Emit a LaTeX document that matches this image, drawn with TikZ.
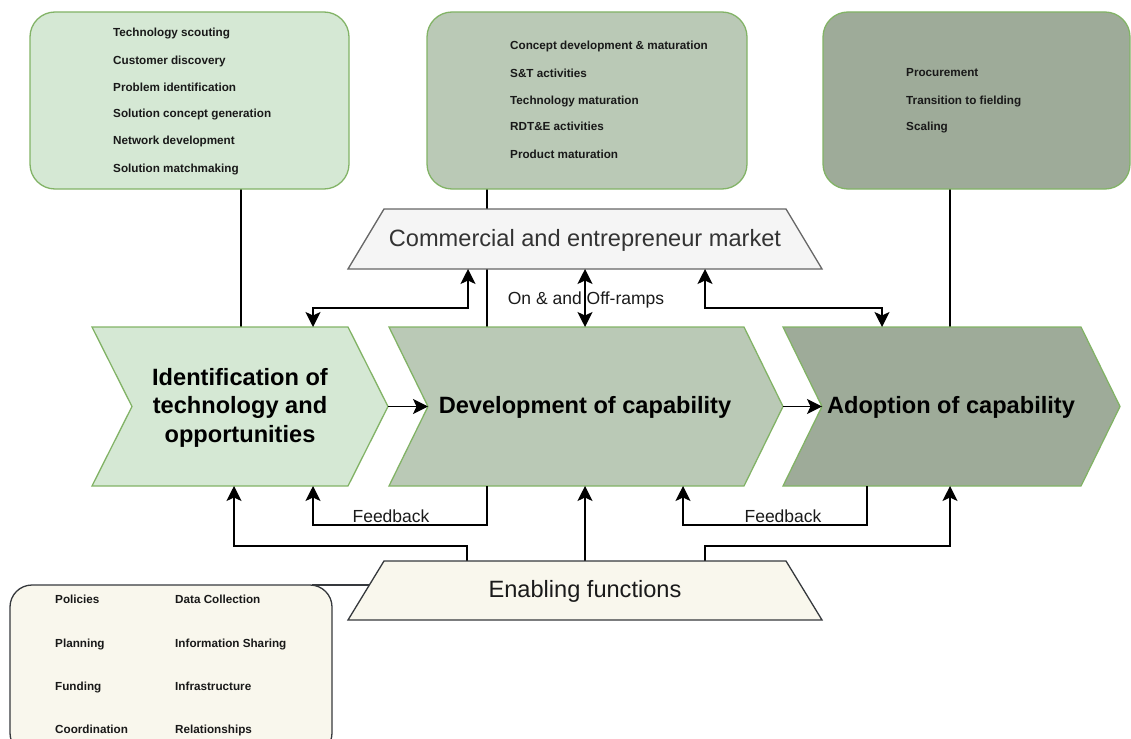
\documentclass[tikz,border=0pt]{standalone}
\usepackage{fontspec}
\setmainfont{Liberation Sans}
\usetikzlibrary{arrows.meta}
\definecolor{idfill}{HTML}{D5E8D4}
\definecolor{devfill}{HTML}{BAC9B6}
\definecolor{adofill}{HTML}{9EAB99}
\definecolor{grnline}{HTML}{82B366}
\definecolor{mktfill}{HTML}{F5F5F5}
\definecolor{mktline}{HTML}{666666}
\definecolor{mkttext}{HTML}{333333}
\definecolor{enfill}{HTML}{F9F7ED}
\definecolor{enline}{HTML}{36393D}
\definecolor{labtext}{HTML}{1A1A1A}
\begin{document}
\begin{tikzpicture}[x=1pt,y=-1pt,
  listbox/.style={draw=grnline, line width=1.3pt, rounded corners=25pt, inner sep=0pt},
  envbox/.style={draw=enline, line width=1.3pt, rounded corners=22pt, inner sep=0pt, fill=enfill},
  stage/.style={draw=grnline, line width=1.3pt},
  trap/.style={line width=1.3pt},
  itemtext/.style={anchor=base west, inner sep=0pt, font=\fontsize{11.7}{14}\selectfont\bfseries, text=black!90},
  stagetext/.style={align=center, inner sep=0pt, font=\fontsize{23.6}{28.5}\selectfont\bfseries},
  traptext/.style={anchor=base, inner sep=0pt, font=\fontsize{23.6}{28}\selectfont},
  conn/.style={line width=1.4pt, -{Stealth[length=15pt,width=15pt,inset=3.5pt]}},
  both/.style={line width=1.4pt, {Stealth[length=15pt,width=15pt,inset=3.5pt]}-{Stealth[length=15pt,width=15pt,inset=3.5pt]}},
  plain/.style={line width=1.3pt},
  lab/.style={inner sep=0pt, anchor=base, font=\fontsize{17.5}{20}\selectfont, text=labtext},
]
\useasboundingbox (0,0) rectangle (1131,738);

% ---- attachment points -------------------------------------------------
\coordinate (b1foot) at (241,189);  \coordinate (s1head) at (241,327);
\coordinate (b2foot) at (487,189);  \coordinate (s2head) at (487,327);
\coordinate (b3foot) at (950,189);  \coordinate (s3head) at (950,327);

\coordinate (s1tip)   at (388,406.5); \coordinate (s2notch) at (428,406.5);
\coordinate (s2tip)   at (783,406.5); \coordinate (s3notch) at (822,406.5);

\coordinate (s1ramp)  at (313,327);   \coordinate (mktleft)  at (468,269);
\coordinate (s2ramp)  at (585,327);   \coordinate (mktmid)   at (585,269);
\coordinate (s3ramp)  at (882,327);   \coordinate (mktright) at (705,269);

\coordinate (s2fb)    at (487,486);   \coordinate (s1fb)  at (313,486);
\coordinate (s3fb)    at (867,486);   \coordinate (s2fbin) at (683,486);

\coordinate (enleft)  at (467,561);   \coordinate (s1en) at (234,486);
\coordinate (enmid)   at (585,561);   \coordinate (s2en) at (585,486);
\coordinate (enright) at (705,561);   \coordinate (s3en) at (950,486);

\coordinate (enside)  at (369.4,585); \coordinate (envcorner) at (312,585);

% ---- links from activity lists to the stages (under the shapes) --------
\draw[plain] (b1foot) -- (s1head);
\draw[plain] (b2foot) -- (s2head);
\draw[plain] (b3foot) -- (s3head);

% ---- activity lists -----------------------------------------------------
\node[listbox, fill=idfill,  minimum width=319pt, minimum height=177pt] (scoutbox)  at (189.5,100.5) {};
\node[listbox, fill=devfill, minimum width=320pt, minimum height=177pt] (maturebox) at (587,100.5) {};
\node[listbox, fill=adofill, minimum width=307pt, minimum height=177pt] (fieldbox)  at (976.5,100.5) {};

\foreach \t/\y [count=\i] in {Technology scouting/36.7, Customer discovery/64.3,
    Problem identification/92, Solution concept generation/117.7,
    Network development/145, Solution matchmaking/172.7}
  \node[itemtext] (scout\i) at (113,\y) {\t};
\foreach \t/\y [count=\i] in {Concept development \& maturation/50, S\&T activities/77.7,
    Technology maturation/105, RDT\&E activities/131, Product maturation/159}
  \node[itemtext] (mature\i) at (510,\y) {\t};
\foreach \t/\y [count=\i] in {Procurement/77, Transition to fielding/105, Scaling/131}
  \node[itemtext] (field\i) at (906,\y) {\t};

% ---- commercial market ------------------------------------------------
\draw[trap, draw=mktline, fill=mktfill] (384,209) -- (786,209) -- (822,269) -- (348,269) -- cycle;
\node[traptext, text=mkttext] (market) at (585,246) {Commercial and entrepreneur market};

% ---- the three stages ---------------------------------------------------
\draw[stage, fill=idfill]  (92,327) -- (348,327) -- (s1tip) -- (348,486) -- (92,486) -- (132,406.5) -- cycle;
\draw[stage, fill=devfill] (389,327) -- (744,327) -- (s2tip) -- (744,486) -- (389,486) -- (s2notch) -- cycle;
\draw[stage, fill=adofill] (783,327) -- (1081,327) -- (1120,406.5) -- (1081,486) -- (783,486) -- (s3notch) -- cycle;

\node[stagetext] (ident) at (240,407.4) {Identification of\\technology and\\opportunities};
\node[stagetext, anchor=base] (develop) at (585,413) {Development of capability};
\node[stagetext, anchor=base] (adopt) at (951,413) {Adoption of capability};

\draw[conn] (s1tip) -- (s2notch);
\draw[conn] (s2tip) -- (s3notch);

% ---- on- and off-ramps ---------------------------------------------------
\draw[both] (s1ramp) -- ++(0,-19) -| (mktleft);
\draw[both] (mktmid) -- (s2ramp);
\draw[both] (mktright) -- ++(0,39) -| (s3ramp);
\node[lab] (ramps) at (586,304) {On \& and Off-ramps};

% ---- feedback loops -----------------------------------------------------
\draw[conn] (s2fb) -- ++(0,39) -| (s1fb);
\draw[conn] (s3fb) -- ++(0,39) -| (s2fbin);
\node[lab] (fb1) at (391,522) {Feedback};
\node[lab] (fb2) at (783,522) {Feedback};

% ---- enabling functions -------------------------------------------------
\draw[conn] (enleft) -- ++(0,-15) -| (s1en);
\draw[conn] (enmid) -- (s2en);
\draw[conn] (enright) -- ++(0,-15) -| (s3en);

\node[envbox, minimum width=322pt, minimum height=170pt] (envlist) at (171,670) {};
\draw[plain, draw=enline] (envcorner) -- (enside);

\draw[trap, draw=enline, fill=enfill] (384,561) -- (786,561) -- (822,620) -- (348,620) -- cycle;
\node[traptext, text=labtext] (enabling) at (585,597) {Enabling functions};

\foreach \t/\y [count=\i] in {Policies/603, Planning/647, Funding/690, Coordination/733}
  \node[itemtext] (envA\i) at (55,\y) {\t};
\foreach \t/\y [count=\i] in {Data Collection/603, Information Sharing/647, Infrastructure/690, Relationships/733}
  \node[itemtext] (envB\i) at (175,\y) {\t};
\end{tikzpicture}
\end{document}
